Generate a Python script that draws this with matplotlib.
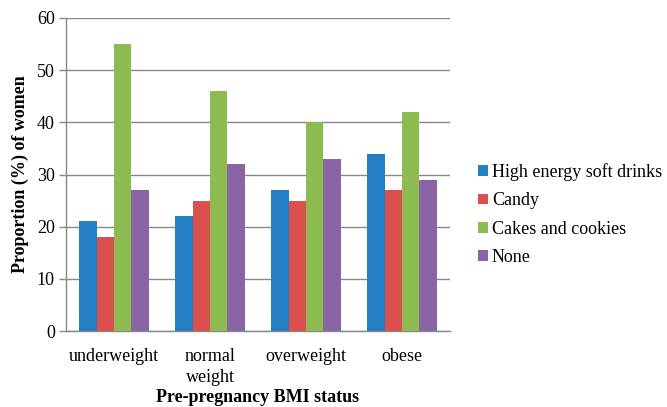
import matplotlib
matplotlib.use('Agg')
import matplotlib.pyplot as plt
import numpy as np

categories = ['underweight', 'normal\nweight', 'overweight', 'obese']
series = ['High energy soft drinks', 'Candy', 'Cakes and cookies', 'None']
soft_drinks = [21, 22, 27, 34]
candy = [18, 25, 25, 27]
cakes = [55, 46, 40, 42]
none = [27, 32, 33, 29]
colors = ['#2580C3', '#DB4F4C', '#8DBB51', '#8A65A5']

plt.rcParams['font.family'] = 'serif'
plt.rcParams['font.serif'] = ['Liberation Serif', 'DejaVu Serif']

fig = plt.figure(figsize=(6.67, 4.07), dpi=100)
ax = fig.add_axes([66 / 667, 1 - 331 / 407, (450 - 66) / 667, (331 - 18) / 407])

x = np.arange(len(categories))
w = 0.182
for i, (vals, lab) in enumerate(zip([soft_drinks, candy, cakes, none], series)):
    ax.bar(x + (i - 1.5) * w, vals, width=w, color=colors[i], label=lab, zorder=3)

ax.set_xlim(-0.5, len(categories) - 0.5)
ax.set_ylim(0, 60)
ax.set_yticks(range(0, 61, 10))
ax.set_xticks(x)
ax.set_xticklabels(categories, fontsize=13, linespacing=1.35)
ax.tick_params(axis='y', labelsize=13, length=5, color='#888888', width=1, pad=3)
ax.tick_params(axis='x', length=0, pad=12)
ax.grid(axis='y', color='#888888', linewidth=1, zorder=0)
for s in ['top', 'right']:
    ax.spines[s].set_visible(False)
for s in ['left', 'bottom']:
    ax.spines[s].set_color('#888888')
    ax.spines[s].set_linewidth(1)

ax.set_ylabel('Proportion (%) of women', fontsize=13, fontweight='bold', labelpad=6)
ax.set_xlabel('Pre-pregnancy BMI status', fontsize=13, fontweight='bold', labelpad=2)

leg = ax.legend(loc='center left', bbox_to_anchor=(478 / 667, 1 - 214.5 / 407), bbox_transform=fig.transFigure,
                frameon=False, fontsize=13, borderaxespad=0, borderpad=0,
                handlelength=0.55, handleheight=0.55, handletextpad=0.22, labelspacing=0.62)

fig.savefig('out.png', dpi=100)
